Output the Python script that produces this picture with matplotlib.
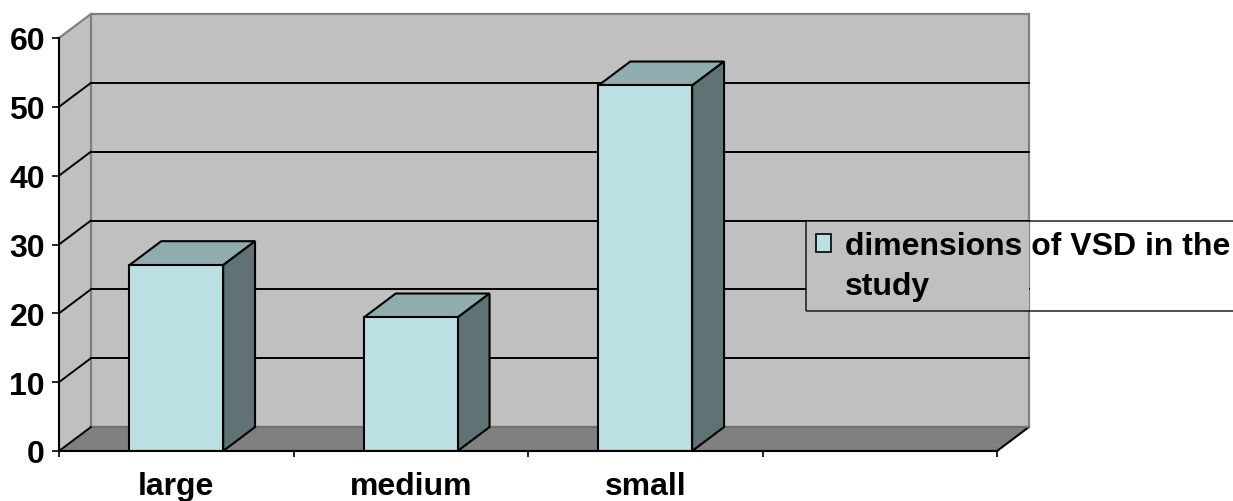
import matplotlib
matplotlib.use("Agg")
import matplotlib.pyplot as plt
from matplotlib.patches import Polygon, Rectangle

# chart data
categories = ["large", "medium", "small", ""]
values = [27.0, 19.4, 53.1]
y_ticks = [0, 10, 20, 30, 40, 50, 60]
series_lines = ["dimensions of VSD in the", "study"]

WALL = "#c0c0c0"
FLOOR = "#808080"
EDGE = "#808080"
FRONT = "#bbe0e3"
TOP = "#8facae"
SIDE = "#5f7374"

DX, DY = 0.136, 3.48   # depth of the 3d box, in data units
BAR_W = 0.4

plt.rcParams["font.family"] = ["Liberation Sans", "DejaVu Sans"]
plt.rcParams["font.weight"] = "bold"
plt.rcParams["font.size"] = 23

fig = plt.figure(figsize=(12.33, 5.02), dpi=100)
ax = fig.add_axes([59 / 1233, 50 / 502, 938 / 1233, 413 / 502])
ax.set_facecolor("none")
n = len(categories)
top = y_ticks[-1]
ax.set_xlim(0, n)
ax.set_ylim(0, top)

# side wall, back wall, floor
ax.add_patch(Polygon([(0, 0), (0, top), (DX, top + DY), (DX, DY)],
                     fc=WALL, ec="none", clip_on=False, zorder=0))
ax.add_patch(Polygon([(DX, DY), (n + DX, DY), (n + DX, top + DY), (DX, top + DY)],
                     fc=WALL, ec=EDGE, lw=1.6, clip_on=False, zorder=0.2))
ax.add_patch(Polygon([(0, 0), (n, 0), (n + DX, DY), (DX, DY)],
                     fc=FLOOR, ec="none", clip_on=False, zorder=0.5))
ax.plot([0, DX], [top, top + DY], color=EDGE, lw=1.6, clip_on=False, zorder=0.6)
ax.plot([n, n + DX], [0, DY], color="black", lw=1.5, clip_on=False, zorder=0.6)
ax.plot([DX, n + DX], [DY, DY], color="#707070", lw=1.5, clip_on=False, zorder=0.6)

# gridlines on back wall and side wall
for v in y_ticks[1:-1]:
    ax.plot([DX, n + DX], [v + DY, v + DY], color="black", lw=1.4, clip_on=False, zorder=1)
for v in y_ticks[:-1]:
    ax.plot([0, DX], [v, v + DY], color="black", lw=1.4, clip_on=False, zorder=1)

# bars
xs = [i + 0.5 for i in range(len(values))]
ax.bar(xs, values, width=BAR_W, color=FRONT, edgecolor="black", lw=1.5, zorder=3)
for x, v in zip(xs, values):
    x0, x1 = x - BAR_W / 2, x + BAR_W / 2
    ax.add_patch(Polygon([(x0, v), (x1, v), (x1 + DX, v + DY), (x0 + DX, v + DY)],
                         fc=TOP, ec="black", lw=1.5, clip_on=False, zorder=2.9))
    ax.add_patch(Polygon([(x1, 0), (x1 + DX, DY), (x1 + DX, v + DY), (x1, v)],
                         fc=SIDE, ec="black", lw=1.5, clip_on=False, zorder=2.9))

# axes
for s in ["top", "right"]:
    ax.spines[s].set_visible(False)
for s in ["left", "bottom"]:
    ax.spines[s].set_linewidth(1.5)
    ax.spines[s].set_zorder(4)
ax.set_yticks(y_ticks)
ax.tick_params(axis="y", direction="out", length=5, width=1.2, pad=5)
ax.set_xticks(range(n + 1))
ax.set_xticklabels([])
ax.tick_params(axis="x", which="major", direction="out", length=4.5, width=1.2)
ax.set_xticks([i + 0.5 for i in range(n)], minor=True)
ax.set_xticklabels(categories, minor=True)
ax.tick_params(axis="x", which="minor", length=0, pad=14.5)

# legend: the wrapped second line sits under the first, next to an empty handle
handle = Rectangle((0, 0), 1, 1, fc=FRONT, ec="black", lw=1.2)
blank = Rectangle((0, 0), 1, 1, visible=False)
leg = fig.legend([handle, blank], series_lines, loc="upper left",
                 bbox_to_anchor=(806 / 1233, 1 - 222 / 502), borderaxespad=0,
                 frameon=True, fancybox=False, edgecolor="black", facecolor="none",
                 handlelength=0.46, handleheight=0.46, handletextpad=0.45,
                 borderpad=0.32, labelspacing=0.3)
leg.get_frame().set_linewidth(1.2)

# keep the wall colour behind the legend, hiding the gridline there
fig.canvas.draw()
bb = leg.get_window_extent().transformed(ax.transData.inverted())
ax.add_patch(Rectangle((bb.x0, bb.y0), n + DX - bb.x0, bb.y1 - bb.y0,
                       fc=WALL, ec="none", clip_on=False, zorder=1.5))

fig.savefig("out.png", dpi=100)
